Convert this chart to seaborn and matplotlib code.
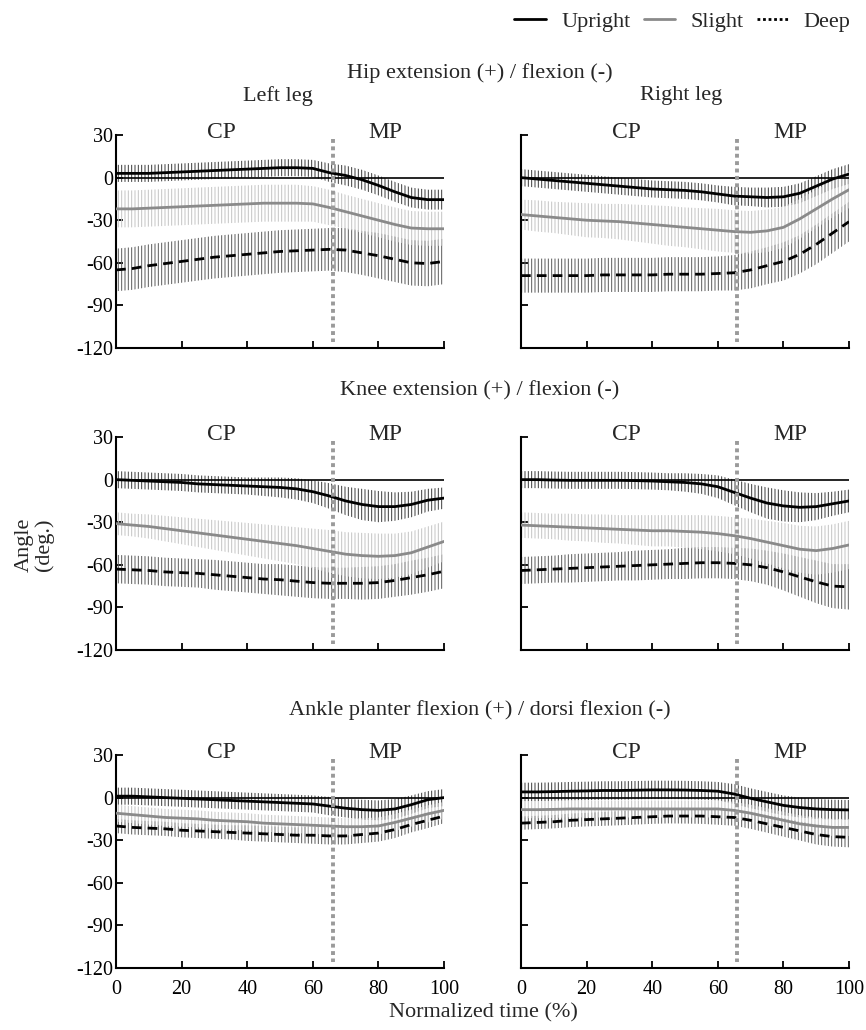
import numpy as np
import pandas as pd
import matplotlib
matplotlib.use("Agg")
import matplotlib.pyplot as plt
from matplotlib.lines import Line2D
import seaborn as sns

# ---------------- data (every 5 % of the cycle) ----------------
time_pct = [0, 5, 10, 15, 20, 25, 30, 35, 40, 45, 50, 55, 60, 65, 70, 75, 80, 85, 90, 95, 100]
postures = ["Upright", "Slight", "Deep"]
phase_split = 66

# Hip, left leg
hip_L_upright = [3, 3, 3, 3.5, 4, 4.5, 5, 5.5, 6, 6.5, 7, 7, 6.5, 3.5, 1.5, -1.5, -5.5, -10, -14, -15.5, -15.5]
hip_L_slight = [-22, -22, -21.5, -21, -20.5, -20, -19.5, -19, -18.5, -18, -18, -18, -18.5, -21, -24, -27, -30, -33, -35.5, -36, -36]
hip_L_deep = [-65, -64, -62, -60.5, -59, -57.5, -56, -55, -54, -53, -52, -51.5, -51, -50.5, -51, -53, -55, -57.5, -60, -60.5, -59]
hip_L_upright_sd = [6, 6, 6, 6, 6, 6, 6, 6, 6, 6, 6, 6, 6, 6.5, 7, 7, 7, 7, 7, 7, 7]
hip_L_slight_sd = [13, 13, 13, 13, 13, 13, 13, 13, 13, 13, 13, 13, 12.5, 12.5, 12, 12, 12, 12, 12, 12, 12]
hip_L_deep_sd = [15, 15, 15, 15, 15, 15, 15, 15, 15, 15, 15, 15, 15, 15, 15.5, 15.5, 16, 16, 16, 16, 16]

# Hip, right leg
hip_R_upright = [0, -1, -2, -3, -4, -5, -6, -7, -8, -8.5, -9, -10, -11.5, -13, -13.5, -14, -13.5, -11, -6, -1, 2.5]
hip_R_slight = [-26, -27, -28, -29, -30, -30.5, -31, -32, -33, -34, -35, -36, -37, -38, -38.5, -37.5, -35, -29, -22, -15, -8.5]
hip_R_deep = [-69, -69, -69, -69, -69, -68.5, -68.5, -68.5, -68.5, -68, -68, -68, -67.5, -67, -65, -62, -59, -54, -47, -39, -31]
hip_R_upright_sd = [6, 6, 6, 6, 6, 6, 6, 6, 6, 6, 6, 6, 6, 6.5, 6.5, 7, 7, 7, 7, 7, 7]
hip_R_slight_sd = [10.5, 11, 11, 11.5, 12, 12, 12.5, 13, 13.5, 14, 14, 14.5, 15, 15, 15, 15, 14.5, 14, 13.5, 13, 13]
hip_R_deep_sd = [12, 12, 12, 12, 12, 12, 12, 12, 12, 12, 12, 12, 12, 12.5, 13, 13, 13.5, 13.5, 14, 14, 14]

# Knee, left leg
knee_L_upright = [0, -0.5, -1, -1.5, -2, -3, -3.5, -4, -4.5, -5, -5.5, -6.5, -8.5, -11.5, -15, -17.5, -19, -19, -17.5, -14.5, -13]
knee_L_slight = [-31, -32, -33, -34.5, -36, -37.5, -39, -40.5, -42, -43.5, -45, -46.5, -48.5, -50.5, -52.5, -53.5, -54, -53.5, -51.5, -47.5, -43.5]
knee_L_deep = [-63, -63.5, -64, -65, -65.5, -66, -67, -68, -69, -70, -70.5, -71.5, -72.5, -73, -73, -73, -72.5, -71, -69, -67, -64.5]
knee_L_upright_sd = [6, 6, 6, 6, 6, 6, 6, 6, 6, 6.5, 7, 7.5, 8, 9, 10, 11, 11, 10, 9, 8, 7.5]
knee_L_slight_sd = [8, 8, 8.5, 9, 9.5, 10, 10.5, 11, 11.5, 12, 12.5, 13, 14, 15, 15.5, 16, 16, 15.5, 15, 14.5, 14]
knee_L_deep_sd = [10, 10, 10, 10, 10, 10, 10.5, 10.5, 10.5, 10.5, 11, 11, 11, 11, 11, 11.5, 11.5, 11.5, 12, 12, 12]

# Knee, right leg
knee_R_upright = [0, 0, -0.3, -0.5, -0.5, -0.5, -0.5, -0.7, -1, -1.5, -2, -3, -5, -9, -13, -16.5, -18.5, -19.5, -19, -17, -15]
knee_R_slight = [-32, -32.5, -33, -33.5, -34, -34.5, -35, -35.5, -36, -36, -36.5, -37, -38, -39.5, -41.5, -44, -46.5, -49, -50, -48.5, -46]
knee_R_deep = [-64, -63.5, -63, -62.5, -62, -61.5, -61, -60.5, -60, -59.5, -59, -58.5, -58.5, -59, -60, -62, -65, -68.5, -72, -75, -75.5]
knee_R_upright_sd = [6, 6, 6, 6, 6, 6, 6, 6, 6, 6, 6.5, 7, 8, 9, 10, 11, 11, 10.5, 9.5, 8.5, 8]
knee_R_slight_sd = [9, 9, 9, 9.5, 9.5, 10, 10, 10.5, 11, 11, 11.5, 12, 12.5, 13, 14, 15, 16, 16.5, 17, 17, 17]
knee_R_deep_sd = [9.5, 9.5, 9.5, 10, 10, 10, 10, 10.5, 10.5, 10.5, 11, 11, 11, 11, 11.5, 12, 13, 14, 15, 15.5, 16]

# Ankle, left leg
ankle_L_upright = [1, 1, 0.5, 0, -0.5, -1, -1.5, -2, -2.5, -3, -3.5, -4, -4.5, -6, -7.5, -8.5, -9, -8, -5, -1.5, 0]
ankle_L_slight = [-11, -12, -13, -14, -14.5, -15, -16, -16.5, -17, -18, -18.5, -19, -19.5, -20, -20.5, -20.5, -20, -17.5, -14.5, -11.5, -9]
ankle_L_deep = [-20, -21, -21.5, -22, -23, -23.5, -24, -24.5, -25, -25.5, -26, -26.5, -26.5, -27, -27, -26, -25, -22.5, -19, -16, -13]
ankle_L_upright_sd = [6, 6, 6, 6, 6, 6, 6, 6, 6, 6, 6, 6, 6, 6.5, 6.5, 7, 7, 7, 6.5, 6, 6]
ankle_L_slight_sd = [6, 6, 6, 6, 6, 6, 6, 6, 6, 6, 6, 6, 6, 6, 6, 6, 6, 6, 6, 6, 6]
ankle_L_deep_sd = [5, 5, 5, 5, 5, 5, 5, 5, 5.5, 5.5, 5.5, 5.5, 6, 6, 6, 6, 6, 6, 5.5, 5.5, 5]

# Ankle, right leg
ankle_R_upright = [4, 4, 4.2, 4.5, 4.7, 5, 5, 5.2, 5.4, 5.4, 5.3, 5, 4.5, 2.5, -0.5, -3, -5.5, -7, -8, -8.5, -8.7]
ankle_R_slight = [-8.5, -8.5, -8.3, -8, -8, -8, -8, -8, -8, -8, -8, -8, -8, -9, -11, -13.5, -16, -18.5, -20, -21, -21]
ankle_R_deep = [-18, -17.5, -17, -16, -15.5, -15, -14.5, -14, -13.5, -13, -13, -13, -13.5, -14, -16, -18.5, -21, -23.5, -26, -27.5, -28]
ankle_R_upright_sd = [6.5, 6.5, 6.5, 6.5, 6.5, 6.5, 6.5, 6.5, 6.5, 6.5, 6.5, 6.5, 6.5, 7, 7, 7, 7, 7, 7, 7, 7]
ankle_R_slight_sd = [6, 6, 6, 6, 6, 6, 6, 6, 6, 6, 6, 6, 6, 6, 6, 6, 6, 6, 6, 6, 6]
ankle_R_deep_sd = [4.7, 4.7, 4.7, 4.8, 4.8, 4.9, 5, 5, 5, 5.2, 5.3, 5.5, 5.6, 5.8, 6, 6.2, 6.5, 6.7, 7, 7, 7]

row_titles = ["Hip extension (+) / flexion (-)",
              "Knee extension (+) / flexion (-)",
              "Ankle planter flexion (+) / dorsi flexion (-)"]
col_titles = ["Left leg", "Right leg"]
phase_labels = ["CP", "MP"]
y_ticks = [30, 0, -30, -60, -90, -120]
x_ticks = [0, 20, 40, 60, 80, 100]

panels = [
    [(hip_L_upright, hip_L_slight, hip_L_deep, hip_L_upright_sd, hip_L_slight_sd, hip_L_deep_sd),
     (hip_R_upright, hip_R_slight, hip_R_deep, hip_R_upright_sd, hip_R_slight_sd, hip_R_deep_sd)],
    [(knee_L_upright, knee_L_slight, knee_L_deep, knee_L_upright_sd, knee_L_slight_sd, knee_L_deep_sd),
     (knee_R_upright, knee_R_slight, knee_R_deep, knee_R_upright_sd, knee_R_slight_sd, knee_R_deep_sd)],
    [(ankle_L_upright, ankle_L_slight, ankle_L_deep, ankle_L_upright_sd, ankle_L_slight_sd, ankle_L_deep_sd),
     (ankle_R_upright, ankle_R_slight, ankle_R_deep, ankle_R_upright_sd, ankle_R_slight_sd, ankle_R_deep_sd)],
]

# ---------------- style ----------------
sns.set_theme(style="ticks")
plt.rcParams["font.family"] = ["Liberation Serif", "DejaVu Serif"]
plt.rcParams["axes.unicode_minus"] = False
plt.rcParams["hatch.linewidth"] = 0.7

line_colors = {"Upright": "#000000", "Slight": "#8a8a8a", "Deep": "#000000"}
band_colors = {"Upright": "#3a3a3a", "Slight": "#c4c4c4", "Deep": "#5a5a5a"}
dash_styles = {"Upright": "", "Slight": "", "Deep": (3.5, 2.2)}
FS = 16

fig = plt.figure(figsize=(8.66, 10.30), dpi=100)
lefts = [0.134, 0.6016]
bottoms = [0.6621, 0.3689, 0.0602]
width, height = 0.3788, 0.2068

for r in range(3):
    for c in range(2):
        ax = fig.add_axes([lefts[c], bottoms[r], width, height])
        means = panels[r][c][:3]
        sds = panels[r][c][3:]
        rows = []
        for name, m in zip(postures, means):
            for t, v in zip(time_pct, m):
                rows.append({"time": t, "angle": v, "posture": name})
        df = pd.DataFrame(rows)

        # SD bands drawn as dense vertical bars (hatch)
        for name, m, s in zip(["Upright", "Deep", "Slight"],
                              [means[0], means[2], means[1]],
                              [sds[0], sds[2], sds[1]]):
            m = np.asarray(m, float)
            s = np.asarray(s, float)
            ax.fill_between(time_pct, m - s, m + s, facecolor="none",
                            edgecolor=band_colors[name], hatch="|||||",
                            linewidth=0, zorder=1)

        ax.plot([0, 100], [0, 0], color="black", lw=1.2, zorder=2)

        sns.lineplot(data=df, x="time", y="angle", hue="posture", style="posture",
                     hue_order=postures, style_order=postures,
                     palette=line_colors, dashes=dash_styles, linewidth=2.0,
                     errorbar=None, legend=False, ax=ax, zorder=4)

        ax.plot([phase_split, phase_split], [27, -116], color="#9a9a9a", lw=2.8,
                linestyle=(0, (1, 0.9)), zorder=5)

        ax.text(32, 31.5, phase_labels[0], ha="center", va="center", fontsize=17, clip_on=False)
        ax.text(82, 31.5, phase_labels[1], ha="center", va="center", fontsize=17, clip_on=False)

        ax.set_xlim(0, 100)
        ax.set_ylim(-120, 30)
        ax.set_xticks(x_ticks)
        ax.set_yticks(y_ticks)
        ax.set_xlabel("")
        ax.set_ylabel("")
        sns.despine(ax=ax)
        for sp in ["left", "bottom"]:
            ax.spines[sp].set_linewidth(1.5)
            ax.spines[sp].set_color("black")
        ax.tick_params(direction="in", length=5, width=1.3, colors="black",
                       labelsize=14.5)
        ax.tick_params(axis="y", pad=2)
        ax.tick_params(axis="x", pad=9)
        if c == 1:
            ax.set_yticklabels([])
        if r < 2:
            ax.set_xticklabels([])

# titles
title_y = [0.929, 0.621, 0.311]
for r in range(3):
    fig.text(0.554, title_y[r], row_titles[r], ha="center", va="center", fontsize=FS)
fig.text(0.321, 0.907, col_titles[0], ha="center", va="center", fontsize=FS)
fig.text(0.786, 0.907, col_titles[1], ha="center", va="center", fontsize=FS)

fig.text(0.040, 0.471, "Angle\n(deg.)", rotation=90, ha="center", va="center",
         fontsize=FS, linespacing=1.0)
fig.text(0.558, 0.017, "Normalized time (%)", ha="center", va="center", fontsize=FS)

handles = [Line2D([], [], color=line_colors[p], lw=2.0,
                  linestyle=(0, (1.0, 1.0)) if p == "Deep" else "-") for p in postures]
fig.legend(handles, postures, loc="center right", bbox_to_anchor=(1.005, 0.979),
           ncol=3, frameon=False, fontsize=FS, handlelength=1.4,
           columnspacing=0.6, handletextpad=0.7)

fig.savefig("out.png", dpi=100)
